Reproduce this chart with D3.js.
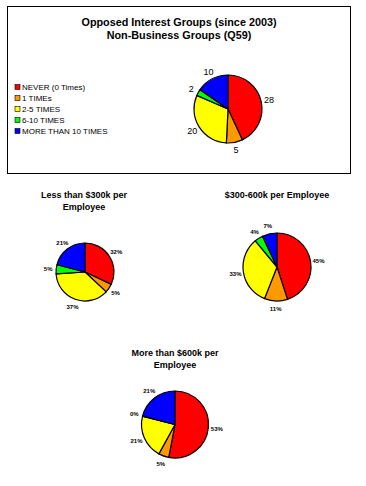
<!DOCTYPE html>
<html><head><meta charset="utf-8">
<script src="https://cdn.jsdelivr.net/npm/d3@7"></script>
<style>
html,body{margin:0;padding:0;background:#fff;}
svg{display:block;font-family:"Liberation Sans",Arial,sans-serif;}
</style></head>
<body>
<svg id="c" width="366" height="486"></svg>
<script>
const categories = ["NEVER (0 Times)", "1  TIMEs", "2-5 TIMES", "6-10 TIMES", "MORE THAN 10 TIMES"];
const colors = ["#FF0000", "#FF9900", "#FFFF00", "#00FF00", "#0000FF"];
const overallValues = [28, 5, 20, 2, 10];
const lowValues = [32, 5, 37, 5, 21];
const midValues = [45, 11, 33, 4, 7];
const highValues = [53, 5, 21, 0, 21];
const mainTitle = ["Opposed Interest Groups (since 2003)", "Non-Business Groups (Q59)"];
const lowTitle = ["Less than $300k per", "Employee"];
const midTitle = ["$300-600k per Employee"];
const highTitle = ["More than $600k per", "Employee"];

const svg = d3.select("#c");

// top box
svg.append("rect").attr("x", 7.5).attr("y", 6.5).attr("width", 343).attr("height", 167)
  .attr("fill", "#fff").attr("stroke", "#000").attr("stroke-width", 1);

function title(lines, cx, y0, size, lh) {
  lines.forEach((t, i) => {
    svg.append("text").attr("x", cx).attr("y", y0 + i * lh).attr("text-anchor", "middle")
      .attr("font-size", size).attr("font-weight", "bold").attr("fill", "#000").text(t);
  });
}

function pie(values, cx, cy, r, labelR, fmt, fsize, fweight) {
  const p = d3.pie().sort(null).value(d => d)(values);
  const arc = d3.arc().innerRadius(0).outerRadius(r);
  const g = svg.append("g").attr("transform", `translate(${cx},${cy})`);
  g.selectAll("path").data(p).join("path")
    .attr("d", arc).attr("fill", (d, i) => colors[i])
    .attr("stroke", "#000").attr("stroke-width", 1.2).attr("stroke-linejoin", "round");
  const la = d3.arc().innerRadius(labelR).outerRadius(labelR);
  g.selectAll("text").data(p).join("text")
    .attr("transform", d => `translate(${la.centroid(d)})`)
    .attr("text-anchor", "middle").attr("dy", "0.35em")
    .attr("font-size", fsize).attr("font-weight", fweight).attr("fill", "#000")
    .text(d => fmt(d.data));
}

title(mainTitle, 179, 26, 10.8, 13);

// legend
const lg = svg.append("g");
categories.forEach((c, i) => {
  const y = 87 + i * 11;
  lg.append("rect").attr("x", 15).attr("y", y - 2.5).attr("width", 5).attr("height", 5)
    .attr("fill", colors[i]).attr("stroke", "#000").attr("stroke-width", 0.6);
  lg.append("text").attr("x", 22).attr("y", y).attr("dy", "0.35em")
    .attr("font-size", 8).attr("fill", "#000").text(c);
});

pie(overallValues, 228, 109, 34, 42, d => d, 9, "normal");

title(lowTitle, 84, 198, 9, 11.5);
pie(lowValues, 85, 272, 29, 37, d => d + "%", 6, "bold");

title(midTitle, 277, 198, 9, 11.5);
pie(midValues, 277, 267, 34, 42, d => d + "%", 6, "bold");

title(highTitle, 175, 356, 9, 11.5);
pie(highValues, 175, 424.5, 33.5, 42, d => d + "%", 6, "bold");
</script>
</body></html>
